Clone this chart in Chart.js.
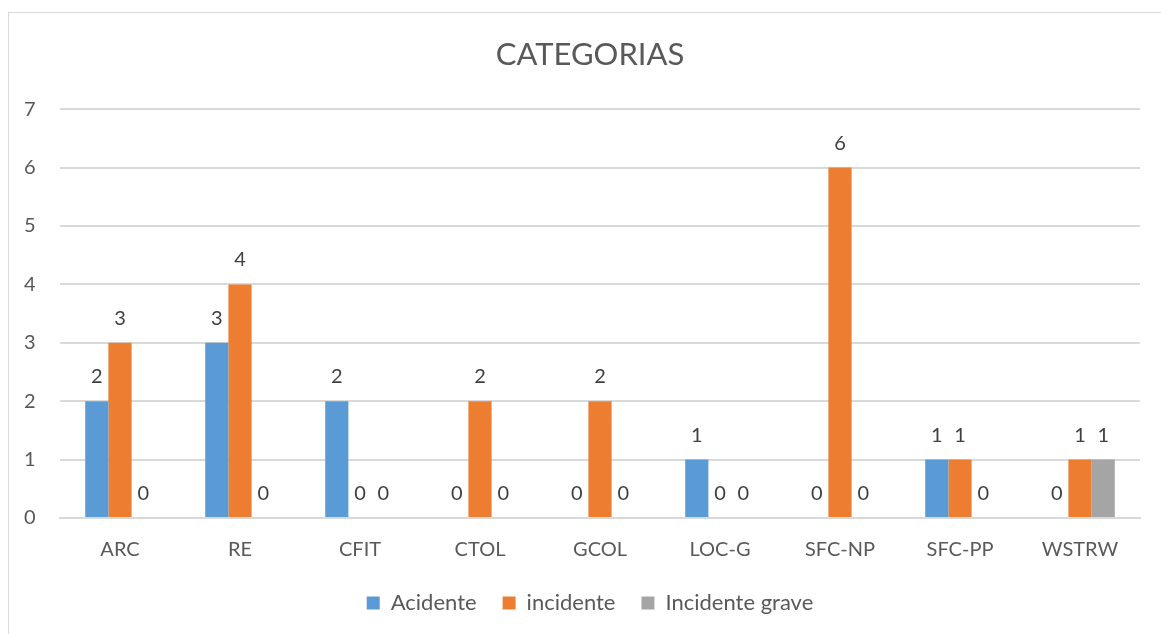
<!DOCTYPE html>
<html>
<head>
<meta charset="utf-8">
<script src="https://cdn.jsdelivr.net/npm/chart.js@4"></script>
<style>
  html, body { margin: 0; padding: 0; background: #fff; overflow: hidden; }
  #frame { position: absolute; left: 8px; top: 12px; width: 1170px; height: 640px; border: 1px solid #d9d9d9; }
  #wrap { position: absolute; left: 0; top: 0; width: 1161px; height: 634px; }
</style>
</head>
<body>
<div id="frame"></div>
<div id="wrap"><canvas id="myChart"></canvas></div>
<script>
const categories = ['ARC', 'RE', 'CFIT', 'CTOL', 'GCOL', 'LOC-G', 'SFC-NP', 'SFC-PP', 'WSTRW'];
const acidente = [2, 3, 2, 0, 0, 1, 0, 1, 0];
const incidente = [3, 4, 0, 2, 2, 0, 6, 1, 1];
const incidenteGrave = [0, 0, 0, 0, 0, 0, 0, 0, 1];
const yTicks = [0, 1, 2, 3, 4, 5, 6, 7];

const textColor = '#595959';
const fontFamily = 'Lato, "Open Sans", sans-serif';

// draws the value above every bar (zeros included)
const valueLabels = {
  id: 'valueLabels',
  afterDatasetsDraw(chart) {
    const ctx = chart.ctx;
    ctx.save();
    ctx.font = '20px ' + fontFamily;
    ctx.fillStyle = '#404040';
    ctx.textAlign = 'center';
    ctx.textBaseline = 'alphabetic';
    chart.data.datasets.forEach((ds, i) => {
      const meta = chart.getDatasetMeta(i);
      meta.data.forEach((bar, j) => {
        ctx.fillText(String(ds.data[j]), bar.x, bar.y - 18);
      });
    });
    ctx.restore();
  }
};

const ctx = document.getElementById('myChart').getContext('2d');
const chart = new Chart(ctx, {
  type: 'bar',
  data: {
    labels: categories,
    datasets: [
      { label: 'Acidente', data: acidente, backgroundColor: '#5B9BD5' },
      { label: 'incidente', data: incidente, backgroundColor: '#ED7D31' },
      { label: 'Incidente grave', data: incidenteGrave, backgroundColor: '#A5A5A5' }
    ]
  },
  options: {
    responsive: true,
    maintainAspectRatio: false,
    animation: false,
    layout: { padding: { left: 40, right: 21, top: 0, bottom: 10 } },
    datasets: { bar: { categoryPercentage: 0.58, barPercentage: 1.0 } },
    plugins: {
      title: {
        display: true,
        text: 'CATEGORIAS',
        color: textColor,
        font: { family: fontFamily, size: 31, weight: 'normal' },
        padding: { top: 36, bottom: 36 }
      },
      legend: {
        position: 'bottom',
        labels: {
          color: textColor,
          font: { family: fontFamily, size: 22 },
          boxWidth: 13,
          boxHeight: 13,
          padding: 26
        }
      },
      tooltip: { enabled: false }
    },
    scales: {
      x: {
        grid: { display: false },
        border: { color: '#d9d9d9', width: 2 },
        ticks: { color: textColor, font: { family: fontFamily, size: 20 }, padding: 12 },
        afterFit(scale) { scale.height = 48; }
      },
      y: {
        min: 0,
        max: 7,
        afterBuildTicks(scale) { scale.ticks = yTicks.map(v => ({ value: v })); },
        grid: { color: '#d9d9d9', lineWidth: 2, drawTicks: false },
        border: { display: false },
        // mirrored so the labels are not clipped to the narrow axis box
        ticks: { color: textColor, font: { family: fontFamily, size: 20 }, mirror: true, crossAlign: 'far', padding: -36 },
        afterFit(scale) { scale.width = 20; }
      }
    }
  },
  plugins: [valueLabels]
});
</script>
</body>
</html>
